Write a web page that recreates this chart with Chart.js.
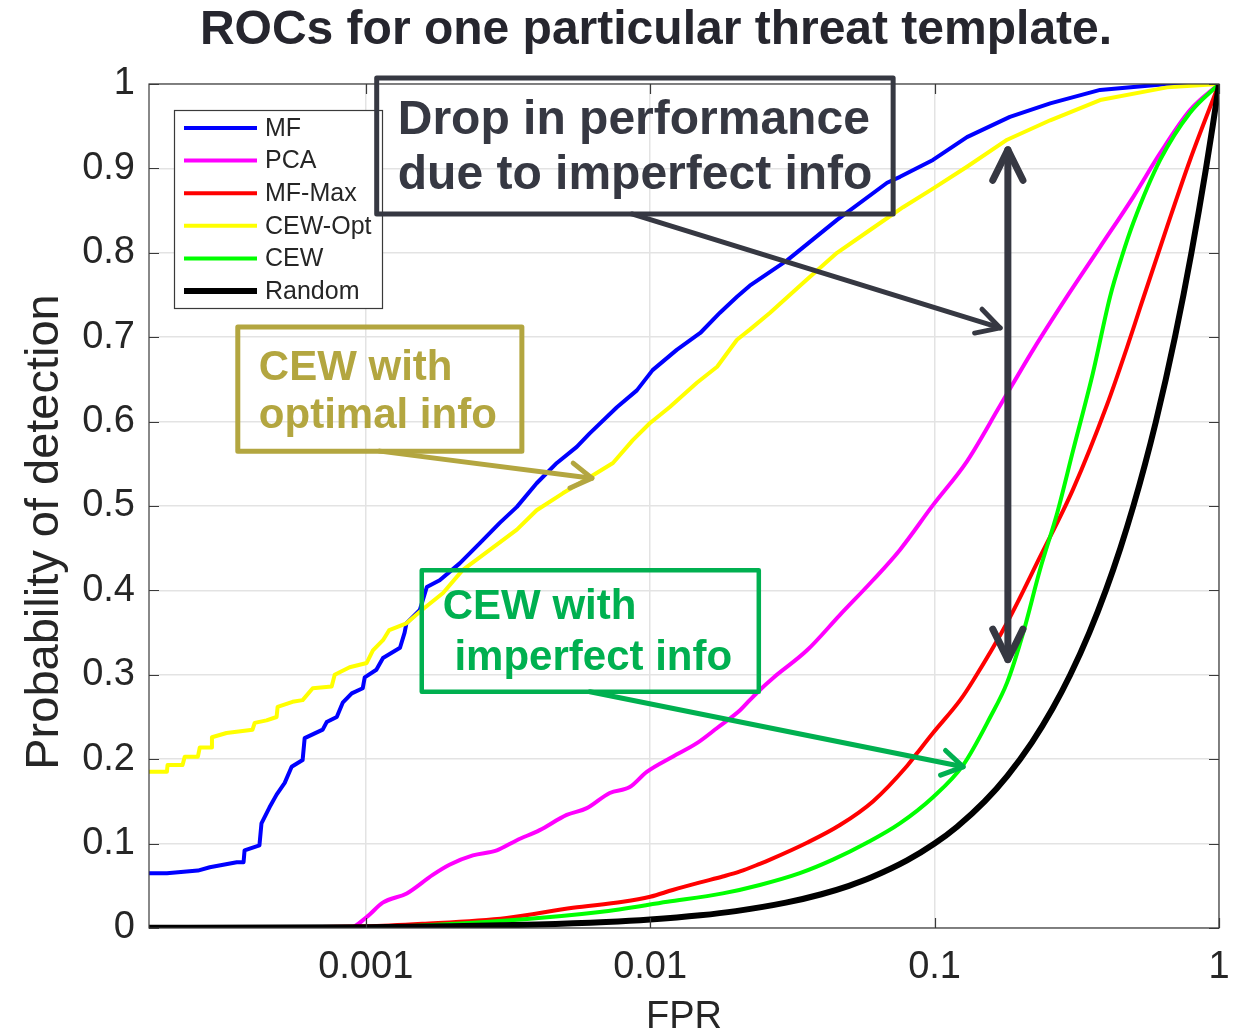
<!DOCTYPE html>
<html>
<head>
<meta charset="utf-8">
<script src="https://cdn.jsdelivr.net/npm/chart.js@4.4.1/dist/chart.umd.min.js"></script>
<style>
html,body{margin:0;padding:0;background:#ffffff;}
canvas{display:block;}
</style>
</head>
<body>
<canvas id="c" width="1233" height="1035"></canvas>
<script>
// ---------------- DATA ----------------
const seriesNames = ['MF', 'PCA', 'MF-Max', 'CEW-Opt', 'CEW', 'Random'];

const mfFpr = [1.73e-4, 2.0e-4, 2.57e-4, 2.83e-4, 3.52e-4, 3.72e-4, 3.75e-4, 4.23e-4, 4.30e-4, 4.59e-4, 4.86e-4, 5.19e-4, 5.49e-4, 6.00e-4, 6.10e-4, 7.06e-4, 7.29e-4, 7.91e-4, 8.30e-4, 8.93e-4, 9.76e-4, 9.92e-4, 1.09e-3, 1.15e-3, 1.32e-3, 1.37e-3, 1.39e-3, 1.55e-3, 1.64e-3, 1.82e-3, 2.14e-3, 2.52e-3, 2.96e-3, 3.40e-3, 3.99e-3, 4.70e-3, 5.52e-3, 6.13e-3, 7.64e-3, 8.98e-3, 1.02e-2, 1.24e-2, 1.50e-2, 1.76e-2, 2.02e-2, 2.24e-2, 3.03e-2, 4.54e-2, 6.81e-2, 7.56e-2, 9.87e-2, 0.130, 0.184, 0.255, 0.382, 0.657, 1];
const mfTpr = [0.065, 0.065, 0.068, 0.072, 0.078, 0.078, 0.092, 0.098, 0.124, 0.143, 0.158, 0.172, 0.191, 0.199, 0.225, 0.235, 0.244, 0.250, 0.267, 0.278, 0.284, 0.297, 0.306, 0.320, 0.332, 0.350, 0.361, 0.377, 0.404, 0.412, 0.432, 0.456, 0.480, 0.499, 0.527, 0.551, 0.570, 0.586, 0.617, 0.637, 0.661, 0.685, 0.705, 0.729, 0.748, 0.761, 0.791, 0.839, 0.883, 0.890, 0.910, 0.937, 0.961, 0.977, 0.993, 1.0, 1.0];

const pcaFpr = [1.73e-4, 8.78e-4, 1.008e-3, 1.148e-3, 1.394e-3, 1.72e-3, 1.97e-3, 2.38e-3, 2.89e-3, 3.40e-3, 4.09e-3, 5.09e-3, 5.99e-3, 7.21e-3, 8.48e-3, 9.73e-3, 1.20e-2, 1.46e-2, 1.72e-2, 2.07e-2, 2.24e-2, 2.43e-2, 2.70e-2, 3.56e-2, 4.65e-2, 6.07e-2, 7.55e-2, 9.87e-2, 0.130, 0.170, 0.222, 0.292, 0.382, 0.499, 0.621, 0.791, 1];
const pcaTpr = [0, 0, 0.013, 0.030, 0.041, 0.063, 0.075, 0.086, 0.092, 0.104, 0.116, 0.134, 0.142, 0.160, 0.167, 0.185, 0.203, 0.219, 0.237, 0.258, 0.270, 0.282, 0.296, 0.329, 0.371, 0.412, 0.448, 0.501, 0.553, 0.619, 0.685, 0.748, 0.807, 0.866, 0.918, 0.969, 1];

const mfMaxFpr = [1.73e-4, 1.0e-3, 1.58e-3, 3.13e-3, 5.35e-3, 8.02e-3, 1.0e-2, 1.2e-2, 1.5e-2, 1.8e-2, 2.07e-2, 2.43e-2, 2.64e-2, 3.56e-2, 4.65e-2, 6.07e-2, 8.0e-2, 8.67e-2, 9.87e-2, 0.123, 0.1365, 0.180, 0.235, 0.307, 0.404, 0.475, 0.528, 0.657, 0.791, 1];
const mfMaxTpr = [0, 0.002, 0.005, 0.012, 0.024, 0.031, 0.037, 0.045, 0.054, 0.061, 0.067, 0.076, 0.081, 0.101, 0.122, 0.150, 0.192, 0.207, 0.231, 0.270, 0.293, 0.362, 0.440, 0.520, 0.620, 0.688, 0.735, 0.831, 0.910, 1];

const cewOptFpr = [1.73e-4, 2.0e-4, 2.01e-4, 2.27e-4, 2.31e-4, 2.57e-4, 2.61e-4, 2.87e-4, 2.88e-4, 3.24e-4, 4.0e-4, 4.07e-4, 4.48e-4, 4.86e-4, 4.90e-4, 5.53e-4, 6.0e-4, 6.51e-4, 7.59e-4, 7.78e-4, 8.78e-4, 1.008e-3, 1.06e-3, 1.15e-3, 1.21e-3, 1.39e-3, 1.58e-3, 1.87e-3, 2.19e-3, 2.73e-3, 3.40e-3, 3.99e-3, 4.93e-3, 6.13e-3, 7.40e-3, 8.69e-3, 9.97e-3, 1.17e-2, 1.46e-2, 1.72e-2, 2.02e-2, 2.24e-2, 2.64e-2, 3.44e-2, 4.54e-2, 5.93e-2, 7.75e-2, 9.87e-2, 0.130, 0.180, 0.255, 0.382, 0.657, 1];
const cewOptTpr = [0.185, 0.185, 0.193, 0.193, 0.203, 0.203, 0.214, 0.214, 0.226, 0.231, 0.235, 0.243, 0.246, 0.250, 0.262, 0.268, 0.270, 0.284, 0.286, 0.300, 0.309, 0.314, 0.329, 0.341, 0.353, 0.361, 0.377, 0.397, 0.424, 0.448, 0.472, 0.495, 0.515, 0.534, 0.551, 0.578, 0.598, 0.617, 0.646, 0.665, 0.697, 0.709, 0.729, 0.764, 0.800, 0.827, 0.854, 0.876, 0.902, 0.934, 0.957, 0.981, 0.996, 1];

const cewFpr = [1.73e-4, 1.0e-3, 3.13e-3, 6.65e-3, 1.15e-2, 1.8e-2, 2.43e-2, 3.36e-2, 4.39e-2, 5.78e-2, 7.55e-2, 9.87e-2, 0.126, 0.157, 0.180, 0.205, 0.235, 0.270, 0.307, 0.360, 0.414, 0.455, 0.499, 0.621, 0.791, 1];
const cewTpr = [0, 0.001, 0.009, 0.019, 0.031, 0.041, 0.051, 0.065, 0.081, 0.101, 0.124, 0.155, 0.193, 0.250, 0.291, 0.350, 0.425, 0.492, 0.566, 0.657, 0.748, 0.795, 0.835, 0.910, 0.966, 1];

const randomFpr = [1.73e-4, 5e-4, 1e-3, 2e-3, 4e-3, 7e-3, 0.01, 0.015, 0.02, 0.03, 0.04, 0.05, 0.06, 0.08, 0.1, 0.12, 0.15, 0.18, 0.22, 0.26, 0.3, 0.35, 0.4, 0.45, 0.5, 0.55, 0.6, 0.65, 0.7, 0.75, 0.8, 0.85, 0.9, 0.95, 1];
const randomTpr = [1.73e-4, 5e-4, 1e-3, 2e-3, 4e-3, 7e-3, 0.01, 0.015, 0.02, 0.03, 0.04, 0.05, 0.06, 0.08, 0.1, 0.12, 0.15, 0.18, 0.22, 0.26, 0.3, 0.35, 0.4, 0.45, 0.5, 0.55, 0.6, 0.65, 0.7, 0.75, 0.8, 0.85, 0.9, 0.95, 1];

const xTickValues = [0.001, 0.01, 0.1, 1];
const xTickLabels = ['0.001', '0.01', '0.1', '1'];
const yTickValues = [0, 0.1, 0.2, 0.3, 0.4, 0.5, 0.6, 0.7, 0.8, 0.9, 1];
const yTickLabels = ['0', '0.1', '0.2', '0.3', '0.4', '0.5', '0.6', '0.7', '0.8', '0.9', '1'];

const titleText = 'ROCs for one particular threat template.';
const xAxisTitle = 'FPR';
const yAxisTitle = 'Probability of detection';
const noteDropLines = ['Drop in performance', 'due to imperfect info'];
const noteOptLines = ['CEW with', 'optimal info'];
const noteImpLines = ['CEW with', ' imperfect info'];

// ---------------- STYLE ----------------
const FONT = "'Liberation Sans', Arial, Helvetica, sans-serif";
const seriesStyles = [
  {color: '#0000ff', width: 4, smooth: false},
  {color: '#ff00ff', width: 4, smooth: true},
  {color: '#ff0000', width: 4, smooth: true},
  {color: '#ffff00', width: 4, smooth: false},
  {color: '#00ff00', width: 4, smooth: true},
  {color: '#000000', width: 6, smooth: true}
];
const seriesData = [
  [mfFpr, mfTpr], [pcaFpr, pcaTpr], [mfMaxFpr, mfMaxTpr],
  [cewOptFpr, cewOptTpr], [cewFpr, cewTpr], [randomFpr, randomTpr]
];
function zip(xs, ys) { return xs.map((x, i) => ({x: x, y: ys[i]})); }

const datasets = seriesNames.map((name, i) => ({
  label: name,
  data: zip(seriesData[i][0], seriesData[i][1]),
  borderColor: seriesStyles[i].color,
  backgroundColor: seriesStyles[i].color,
  borderWidth: seriesStyles[i].width,
  pointRadius: 0,
  fill: false,
  tension: 0,
  cubicInterpolationMode: seriesStyles[i].smooth ? 'monotone' : 'default',
  borderJoinStyle: 'round',
  borderCapStyle: 'round',
  order: 10 - i
}));

// frame with inward ticks (MATLAB box)
const framePlugin = {
  id: 'frame',
  afterDatasetsDraw(chart) {
    const {ctx, chartArea: a, scales: {x, y}} = chart;
    ctx.save();
    ctx.strokeStyle = '#3a3a3a';
    ctx.lineWidth = 1.2;
    ctx.strokeRect(a.left, a.top, a.right - a.left, a.bottom - a.top);
    const L = 10;
    ctx.beginPath();
    xTickValues.forEach(v => {
      const px = Math.round(x.getPixelForValue(v)) + 0.5;
      ctx.moveTo(px, a.bottom); ctx.lineTo(px, a.bottom - L);
      ctx.moveTo(px, a.top); ctx.lineTo(px, a.top + L);
    });
    yTickValues.forEach(v => {
      const py = Math.round(y.getPixelForValue(v)) + 0.5;
      ctx.moveTo(a.left, py); ctx.lineTo(a.left + L, py);
      ctx.moveTo(a.right, py); ctx.lineTo(a.right - L, py);
    });
    ctx.stroke();
    ctx.restore();
  }
};

// legend box inside axes (north-west)
const legendPlugin = {
  id: 'legendBox',
  afterDraw(chart) {
    const {ctx, chartArea: a} = chart;
    const bx = a.left + 25, by = a.top + 26, bw = 208, bh = 198;
    ctx.save();
    ctx.fillStyle = '#ffffff';
    ctx.fillRect(bx, by, bw, bh);
    ctx.strokeStyle = '#3a3a3a';
    ctx.lineWidth = 1.2;
    ctx.strokeRect(bx + 0.5, by + 0.5, bw, bh);
    ctx.font = '25px ' + FONT;
    ctx.textBaseline = 'middle';
    ctx.textAlign = 'left';
    chart.data.datasets.forEach((ds, i) => {
      const yy = by + 18 + i * 32.6;
      ctx.strokeStyle = ds.borderColor;
      ctx.lineWidth = ds.borderWidth;
      ctx.lineCap = 'butt';
      ctx.beginPath();
      ctx.moveTo(bx + 10, yy); ctx.lineTo(bx + 83, yy);
      ctx.stroke();
      ctx.fillStyle = '#262626';
      ctx.fillText(ds.label, bx + 91, yy + 1);
    });
    ctx.restore();
  }
};

// annotations placed in data coordinates
const DARK = '#363842', OLIVE = '#b3a640', GREEN = '#00b050';
function drawArrowHead(ctx, x1, y1, x2, y2, head, spread) {
  const ang = Math.atan2(y2 - y1, x2 - x1);
  ctx.beginPath();
  ctx.moveTo(x2 - head * Math.cos(ang - spread), y2 - head * Math.sin(ang - spread));
  ctx.lineTo(x2, y2);
  ctx.lineTo(x2 - head * Math.cos(ang + spread), y2 - head * Math.sin(ang + spread));
  ctx.stroke();
}
function drawArrow(ctx, x1, y1, x2, y2, color, lw, head, spread) {
  ctx.strokeStyle = color; ctx.lineWidth = lw;
  ctx.lineCap = 'round'; ctx.lineJoin = 'round';
  ctx.beginPath(); ctx.moveTo(x1, y1); ctx.lineTo(x2, y2); ctx.stroke();
  drawArrowHead(ctx, x1, y1, x2, y2, head, spread);
}
const annotationPlugin = {
  id: 'notes',
  afterDraw(chart) {
    const {ctx, scales: {x, y}} = chart;
    const X = v => x.getPixelForValue(v), Y = v => y.getPixelForValue(v);
    ctx.save();
    ctx.lineJoin = 'round';
    // Dark box
    ctx.strokeStyle = DARK; ctx.lineWidth = 5;
    ctx.strokeRect(X(1.093e-3), Y(1.007), X(0.0715) - X(1.093e-3), Y(0.846) - Y(1.007));
    ctx.fillStyle = DARK; ctx.font = 'bold 48px ' + FONT;
    ctx.textBaseline = 'middle'; ctx.textAlign = 'left';
    ctx.fillText(noteDropLines[0], X(1.296e-3), Y(0.956));
    ctx.fillText(noteDropLines[1], X(1.296e-3), Y(0.891));
    drawArrow(ctx, X(8.62e-3), Y(0.846), X(0.170), Y(0.711), DARK, 5, 26, 0.5);
    // vertical double arrow
    const vx = X(0.181), vt = Y(0.922), vb = Y(0.318);
    drawArrow(ctx, vx, vb, vx, vt, DARK, 7, 34, 0.46);
    drawArrowHead(ctx, vx, vt, vx, vb, 34, 0.46);
    // Olive box
    ctx.strokeStyle = OLIVE; ctx.lineWidth = 5;
    ctx.strokeRect(X(3.55e-4), Y(0.712), X(3.54e-3) - X(3.55e-4), Y(0.565) - Y(0.712));
    ctx.fillStyle = OLIVE; ctx.font = 'bold 42px ' + FONT;
    ctx.fillText(noteOptLines[0], X(4.21e-4), Y(0.6635));
    ctx.fillText(noteOptLines[1], X(4.21e-4), Y(0.6066));
    drawArrow(ctx, X(1.12e-3), Y(0.565), X(6.24e-3), Y(0.533), OLIVE, 5, 24, 0.55);
    // Green box
    ctx.strokeStyle = GREEN; ctx.lineWidth = 4.5;
    ctx.strokeRect(X(1.574e-3), Y(0.424), X(2.41e-2) - X(1.574e-3), Y(0.280) - Y(0.424));
    ctx.fillStyle = GREEN; ctx.font = 'bold 42px ' + FONT;
    ctx.fillText(noteImpLines[0], X(1.866e-3), Y(0.3803));
    ctx.fillText(noteImpLines[1], X(1.866e-3), Y(0.3199));
    drawArrow(ctx, X(6.14e-3), Y(0.280), X(0.126), Y(0.191), GREEN, 5, 24, 0.55);
    ctx.restore();
  }
};

// title & axis titles
const titlesPlugin = {
  id: 'titles',
  afterDraw(chart) {
    const {ctx, chartArea: a} = chart;
    ctx.save();
    ctx.textBaseline = 'middle'; ctx.textAlign = 'center';
    ctx.fillStyle = '#26262e';
    ctx.font = 'bold 48px ' + FONT;
    ctx.fillText(titleText, 656, 31);
    ctx.fillStyle = '#262626';
    ctx.font = '38px ' + FONT;
    ctx.fillText(xAxisTitle, (a.left + a.right) / 2, 1018);
    ctx.translate(45, 532);
    ctx.rotate(-Math.PI / 2);
    ctx.font = '47px ' + FONT;
    ctx.fillText(yAxisTitle, 0, 0);
    ctx.restore();
  }
};

new Chart(document.getElementById('c'), {
  type: 'line',
  data: {datasets: datasets},
  options: {
    responsive: false,
    animation: false,
    devicePixelRatio: 1,
    layout: {padding: {left: 0, right: 14, top: 84, bottom: 0}},
    plugins: {legend: {display: false}, title: {display: false}, tooltip: {enabled: false}},
    scales: {
      x: {
        type: 'logarithmic', min: 1.73e-4, max: 1,
        afterBuildTicks: s => { s.ticks = xTickValues.map(v => ({value: v})); },
        afterFit: s => { s.height = 107; s.paddingLeft = 0; s.paddingRight = 0; },
        ticks: {autoSkip: false, maxRotation: 0, minRotation: 0, padding: 17,
          font: {family: FONT, size: 38}, color: '#262626',
          callback: (v, i) => xTickLabels[i]},
        grid: {color: '#e3e3e3', lineWidth: 1.5, drawTicks: false},
        border: {display: false}
      },
      y: {
        type: 'linear', min: 0, max: 1,
        afterBuildTicks: s => { s.ticks = yTickValues.map(v => ({value: v})); },
        afterFit: s => { s.width = 149; s.paddingTop = 0; s.paddingBottom = 0; },
        ticks: {autoSkip: false, padding: 14,
          font: {family: FONT, size: 38}, color: '#262626',
          callback: (v, i) => yTickLabels[i]},
        grid: {color: '#e3e3e3', lineWidth: 1.5, drawTicks: false},
        border: {display: false}
      }
    }
  },
  plugins: [framePlugin, legendPlugin, annotationPlugin, titlesPlugin]
});
</script>
</body>
</html>
